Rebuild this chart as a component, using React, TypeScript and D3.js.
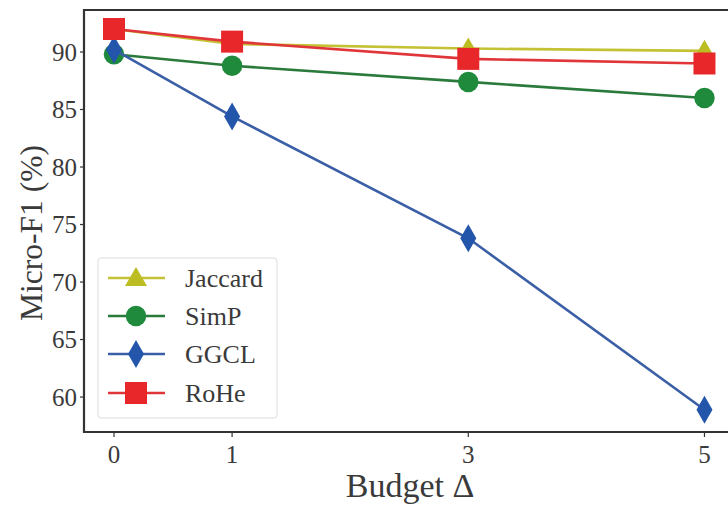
import React from "react";
import * as d3 from "d3";

// budgets on the x axis
const budgets = [0, 1, 3, 5];
const xTicks = [0, 1, 3, 5];
const yTicks = [60, 65, 70, 75, 80, 85, 90];

const jaccard = [92.0, 90.7, 90.3, 90.1];
const simp = [89.8, 88.8, 87.4, 86.0];
const ggcl = [90.2, 84.4, 73.8, 58.9];
const rohe = [92.0, 90.9, 89.4, 89.0];

const seriesNames = ["Jaccard", "SimP", "GGCL", "RoHe"];

type Marker = "triangle" | "circle" | "diamond" | "square";

const W = 728;
const H = 509;
const m = { l: 84, t: 10, r: -6, b: 77 }; // right spine sits just outside the picture
const font = "'Liberation Serif', 'Times New Roman', serif";

function markerPath(kind: Marker) {
  if (kind === "triangle") return "M0,-11L11,8L-11,8Z";
  if (kind === "diamond") return "M0,-14L8,0L0,14L-8,0Z";
  if (kind === "square") return "M-11,-11H11V11H-11Z";
  return d3.symbol(d3.symbolCircle, 330)() || "";
}

export default function App() {
  const x = d3.scaleLinear().domain([-0.254, 5.25]).range([m.l, W - m.r]);
  const y = d3.scaleLinear().domain([56.96, 93.65]).range([H - m.b, m.t]);

  const series = [
    { name: seriesNames[0], vals: jaccard, color: "#bcbd22", line: "#c4c234", marker: "triangle" as Marker },
    { name: seriesNames[1], vals: simp, color: "#1f8a3c", line: "#2a7a3c", marker: "circle" as Marker },
    { name: seriesNames[2], vals: ggcl, color: "#2356ab", line: "#3b5fa6", marker: "diamond" as Marker },
    { name: seriesNames[3], vals: rohe, color: "#e8272b", line: "#e0363a", marker: "square" as Marker },
  ];

  const line = d3
    .line<number>()
    .x((_, i) => x(budgets[i]))
    .y(d => y(d));

  const x0 = x.range()[0];
  const y0 = y.range()[0];
  const y1 = y.range()[1];

  const legX = 98;
  const legY = 258;
  const legRows = [278, 316, 354, 393];

  return (
    <svg width={W} height={H} style={{ position: "absolute", left: 0, top: 0 }} fontFamily={font}>
      <rect width={W} height={H} fill="#fff" />

      {/* series */}
      {series.map(s => (
        <g key={s.name}>
          <path d={line(s.vals) || ""} fill="none" stroke={s.line} strokeWidth={2.6} />
          {s.vals.map((v, i) => (
            <path key={i} d={markerPath(s.marker)} transform={`translate(${x(budgets[i])},${y(v)})`} fill={s.color} />
          ))}
        </g>
      ))}

      {/* spines */}
      <path d={`M${W + 10},${y1}H${x0}V${y0}H${W + 10}`} fill="none" stroke="#333" strokeWidth={2.2} />

      {/* y ticks */}
      {yTicks.map(t => (
        <g key={t} transform={`translate(${x0},${y(t)})`}>
          <line x1={-4} x2={0} stroke="#333" strokeWidth={1.2} />
          <text x={-7} dy="0.35em" textAnchor="end" fontSize={25} fill="#3a3a3a">{t}</text>
        </g>
      ))}

      {/* x ticks */}
      {xTicks.map(t => (
        <g key={t} transform={`translate(${x(t)},${y0})`}>
          <line y1={0} y2={5} stroke="#333" strokeWidth={1.2} />
          <text y={31} textAnchor="middle" fontSize={25} fill="#3a3a3a">{t}</text>
        </g>
      ))}

      {/* axis titles */}
      <text x={410} y={497} textAnchor="middle" fontSize={34} fill="#3a3a3a">Budget Δ</text>
      <text transform="translate(42,233) rotate(-90)" textAnchor="middle" fontSize={31.5} fill="#3a3a3a">
        Micro-F1 (%)
      </text>

      {/* legend */}
      <rect x={legX} y={legY} width={179} height={160} rx={3} fill="#fff" fillOpacity={0.85} stroke="#ddd" strokeWidth={1} />
      {series.map((s, i) => (
        <g key={s.name} transform={`translate(0,${legRows[i]})`}>
          <line x1={108} x2={165} stroke={s.line} strokeWidth={2.6} />
          <path d={markerPath(s.marker)} transform="translate(136,0)" fill={s.color} />
          <text x={185} dy="0.35em" fontSize={26} fill="#3a3a3a">{s.name}</text>
        </g>
      ))}
    </svg>
  );
}
